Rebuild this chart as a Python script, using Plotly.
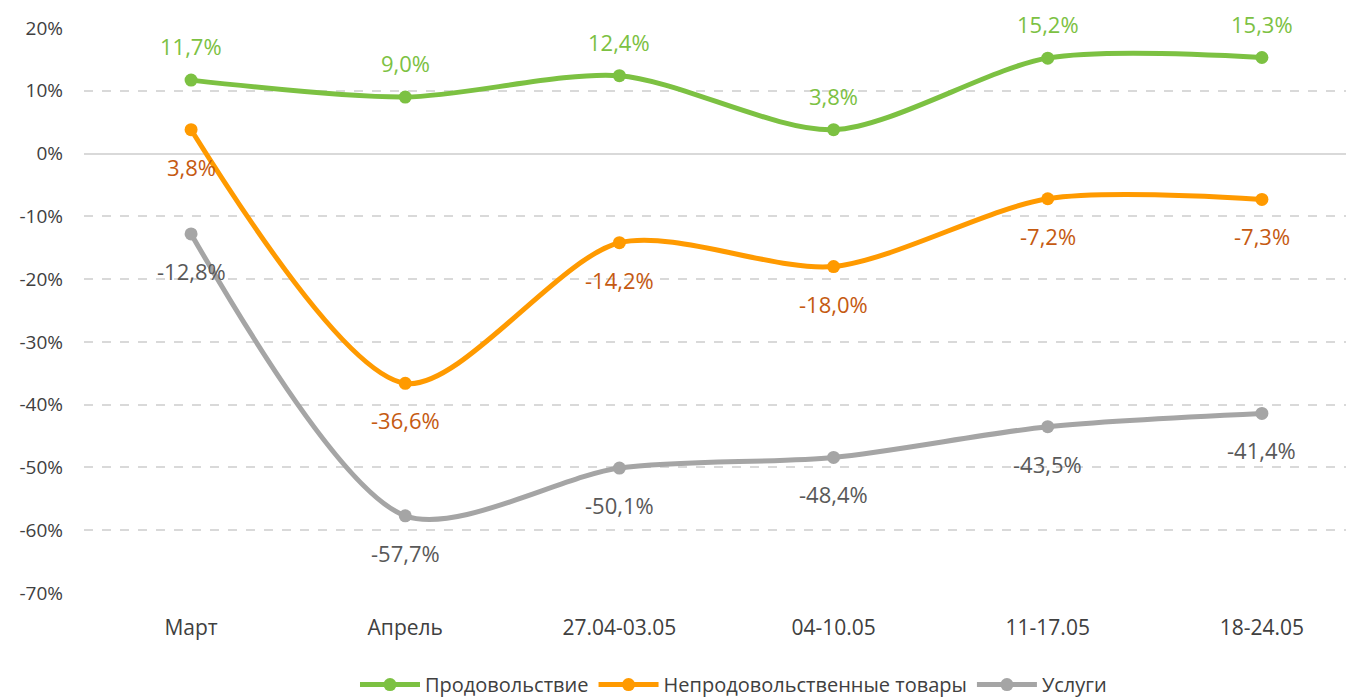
import plotly.graph_objects as go

categories = ["Март", "Апрель", "27.04-03.05", "04-10.05", "11-17.05", "18-24.05"]
food = [11.7, 9.0, 12.4, 3.8, 15.2, 15.3]
nonfood = [3.8, -36.6, -14.2, -18.0, -7.2, -7.3]
services = [-12.8, -57.7, -50.1, -48.4, -43.5, -41.4]
names = ["Продовольствие", "Непродовольственные товары", "Услуги"]
yticks = [20, 10, 0, -10, -20, -30, -40, -50, -60, -70]

def fmt(v):
    return f"{v:.1f}%".replace(".", ",")

series = [
    (names[0], food, "#7CC142", "#7CC142", 34),
    (names[1], nonfood, "#FF9A00", "#C55A11", -37),
    (names[2], services, "#A5A5A5", "#595959", -37),
]

fig = go.Figure()
x = list(range(len(categories)))
for name, vals, lc, tc, shift in series:
    fig.add_trace(go.Scatter(
        x=x, y=vals, name=name, mode="lines+markers",
        line=dict(color=lc, width=5, shape="spline", smoothing=0.8),
        marker=dict(color=lc, size=13),
        cliponaxis=False,
    ))
    for xi, v in zip(x, vals):
        fig.add_annotation(x=xi, y=v, text=fmt(v), showarrow=False, yshift=shift,
                           yanchor="middle", xanchor="center",
                           font=dict(color=tc, size=22, family="Open Sans"))

fig.update_layout(
    width=1346, height=689,
    margin=dict(l=76, r=0, t=20, b=104),
    plot_bgcolor="white", paper_bgcolor="white",
    font=dict(family="Open Sans", size=19, color="#404040"),
    showlegend=True,
    legend=dict(orientation="h", x=0.539, xanchor="center", xref="container",
                y=0.018, yanchor="middle", yref="container",
                font=dict(size=20, color="#404040"), itemwidth=60,
                entrywidth=0),
    xaxis=dict(range=[-0.5, 5.43], tickvals=x, ticktext=categories, showgrid=False,
               zeroline=False, showline=False, ticks="", tickfont=dict(size=21),
               ticklabelstandoff=20, automargin=False),
    yaxis=dict(range=[-70, 20], tickvals=yticks, ticktext=[f"{t}%" for t in yticks],
               showgrid=True, gridcolor="#D9D9D9", griddash="dash", gridwidth=1.5,
               zeroline=True, zerolinecolor="#D9D9D9", zerolinewidth=1.5,
               tickfont=dict(size=19), ticks="", ticklabelstandoff=20,
               automargin=False),
)
fig.write_html("out.html")
